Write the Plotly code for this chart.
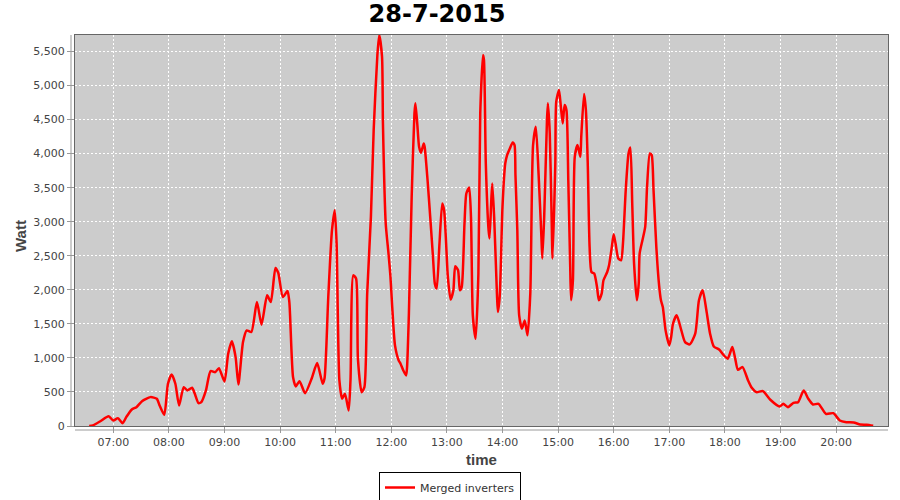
import plotly.graph_objects as go

# ---- data ----
day = "2015-07-28"
times = [
    "06:34", "06:38", "06:46", "06:55", "07:00", "07:05", "07:10", "07:14", "07:20", "07:25",
    "07:31", "07:40", "07:47", "07:50", "07:55", "07:59", "08:03", "08:07", "08:11", "08:16",
    "08:20", "08:25", "08:28", "08:32", "08:35", "08:40", "08:45", "08:50", "08:54", "09:00",
    "09:04", "09:08", "09:12", "09:15", "09:20", "09:24", "09:29", "09:35", "09:40", "09:46",
    "09:50", "09:55", "09:58", "10:03", "10:08", "10:10", "10:14", "10:17", "10:21", "10:27",
    "10:34", "10:40", "10:46", "10:48", "10:52", "10:56", "10:59", "11:01", "11:04", "11:07",
    "11:10", "11:14", "11:16", "11:19", "11:22", "11:24", "11:28", "11:31", "11:34", "11:38",
    "11:41", "11:45", "11:47", "11:50", "11:51", "11:54", "11:57", "11:59", "12:01", "12:04",
    "12:08", "12:10", "12:13", "12:16", "12:17", "12:19", "12:22", "12:25", "12:26", "12:28",
    "12:30", "12:32", "12:35", "12:36", "12:39", "12:42", "12:45", "12:47", "12:49", "12:52",
    "12:55", "12:57", "12:59", "13:01", "13:04", "13:07", "13:09", "13:12", "13:14", "13:16",
    "13:19", "13:21", "13:24", "13:26", "13:28", "13:31", "13:34", "13:36", "13:39", "13:40",
    "13:42", "13:45", "13:46", "13:48", "13:49", "13:51", "13:54", "13:55", "13:57", "14:00",
    "14:03", "14:05", "14:08", "14:11", "14:13", "14:14", "14:16", "14:18", "14:21", "14:24",
    "14:27", "14:30", "14:33", "14:36", "14:39", "14:42", "14:43", "14:45", "14:48", "14:49",
    "14:51", "14:53", "14:54", "14:57", "14:58", "15:01", "15:03", "15:05", "15:07", "15:09",
    "15:11", "15:13", "15:14", "15:16", "15:18", "15:21", "15:24", "15:25", "15:28", "15:30",
    "15:32", "15:34", "15:36", "15:39", "15:42", "15:44", "15:47", "15:49", "15:53", "15:55",
    "15:58", "16:00", "16:02", "16:05", "16:08", "16:10", "16:13", "16:16", "16:18", "16:20",
    "16:22", "16:25", "16:27", "16:28", "16:31", "16:34", "16:36", "16:39", "16:41", "16:43",
    "16:46", "16:49", "16:51", "16:53", "16:56", "17:00", "17:02", "17:04", "17:08", "17:13",
    "17:17", "17:22", "17:28", "17:32", "17:36", "17:40", "17:44", "17:48", "17:54", "17:58",
    "18:03", "18:08", "18:11", "18:14", "18:19", "18:25", "18:29", "18:34", "18:41", "18:49",
    "18:59", "19:03", "19:08", "19:14", "19:19", "19:25", "19:30", "19:35", "19:41", "19:49",
    "19:57", "20:04", "20:11", "20:19", "20:26", "20:33", "20:40",
]
watts = [
    0, 10, 70, 144, 80, 115, 41, 130, 243, 277,
    365, 424, 400, 302, 165, 620, 757, 620, 302, 570,
    522, 562, 473, 335, 350, 522, 806, 791, 850, 654,
    1062, 1243, 1012, 610, 1232, 1404, 1380, 1820, 1488, 1919,
    1820, 2320, 2250, 1894, 1982, 1820, 718, 581, 659, 482,
    694, 924, 620, 700, 1894, 2875, 3169, 2680, 669, 400,
    473, 228, 680, 2213, 2165, 988, 497, 570, 1944, 3071,
    4346, 5449, 5742, 5424, 4444, 2974, 2532, 2213, 1750, 1184,
    963, 915, 816, 743, 860, 1650, 3365, 4591, 4738, 4444,
    4100, 4012, 4150, 4100, 3635, 3071, 2482, 2091, 2018, 2679,
    3268, 3169, 2728, 2200, 1856, 1993, 2346, 2290, 1993, 2040,
    2974, 3415, 3503, 3070, 1625, 1282, 2238, 4591, 5449, 5375,
    3856, 2875, 2753, 3341, 3562, 3070, 1944, 1674, 1900, 3218,
    3856, 3978, 4077, 4165, 4125, 3684, 2875, 1625, 1429, 1551,
    1331, 1944, 4125, 4394, 3684, 2777, 2459, 3070, 4493, 4738,
    4300, 3070, 2459, 3856, 4762, 4934, 4688, 4444, 4713, 4640,
    3610, 2385, 1846, 2140, 3953, 4125, 3953, 4247, 4875, 4640,
    3856, 2630, 2262, 2238, 2041, 1846, 1944, 2140, 2262, 2360,
    2630, 2816, 2679, 2459, 2434, 2679, 3463, 4003, 4091, 3268,
    2385, 1846, 2091, 2532, 2728, 2924, 3512, 4003, 3978, 3463,
    2630, 2066, 1846, 1747, 1404, 1184, 1306, 1503, 1625, 1404,
    1232, 1198, 1356, 1846, 1993, 1699, 1356, 1169, 1120, 1051,
    988, 1159, 1000, 826, 865, 669, 560, 497, 512, 385,
    287, 326, 277, 341, 350, 522, 400, 316, 326, 179,
    188, 81, 56, 51, 22, 18, 3,
]
series_name = "Merged inverters"
chart_title = "28-7-2015"
x_title = "time"
y_title = "Watt"
x_range = [f"{day} 06:18:42", f"{day} 20:56:00"]
y_range = [0, 5742]

x_vals = [f"{day} {t}" for t in times]

fig = go.Figure()
fig.add_trace(go.Scatter(
    x=x_vals, y=watts, mode="lines", name=series_name,
    line=dict(color="#ff0000", width=2.5, shape="spline", smoothing=0.6),
))

fig.update_layout(
    width=900, height=500,
    margin=dict(l=75, r=12, t=35, b=74, autoexpand=False),
    paper_bgcolor="#ffffff",
    plot_bgcolor="#cccccc",
    font=dict(family="DejaVu Sans", color="#444444"),
    title=dict(text=chart_title, x=437 / 900, xref="container", xanchor="center",
               y=1 - 14 / 500, yanchor="middle",
               font=dict(family="DejaVu Sans", size=24, color="#000000", weight="bold")),
    showlegend=True,
    legend=dict(orientation="h", x=(450 - 75) / 813, xanchor="center",
                y=(426 - 487.5) / 391, yanchor="middle",
                bordercolor="#000000", borderwidth=1, bgcolor="#ffffff",
                font=dict(family="DejaVu Sans", size=11, color="#333333"),
                itemwidth=30, tracegroupgap=0),
)

fig.update_xaxes(
    type="date", range=x_range, tickformat="%H:%M", dtick=3600000,
    tick0=f"{day} 00:00", automargin=False,
    showgrid=True, gridcolor="#ffffff", griddash="2px,2px", gridwidth=1,
    showline=True, mirror=True, linecolor="#666666", linewidth=1,
    ticks="outside", ticklen=6, tickcolor="#999999",
    tickfont=dict(family="DejaVu Sans", size=11, color="#444444"),
    zeroline=False,
)
fig.update_yaxes(
    range=y_range, dtick=500, tickformat=",d", automargin=False,
    showgrid=True, gridcolor="#ffffff", griddash="2px,2px", gridwidth=1,
    showline=True, mirror=True, linecolor="#666666", linewidth=1,
    ticks="outside", ticklen=7, tickcolor="#999999",
    tickfont=dict(family="DejaVu Sans", size=11, color="#444444"),
    zeroline=False,
)

# separate axis lines (offset from the plot border)
fig.add_shape(type="line", xref="paper", yref="paper", xsizemode="pixel", xanchor=0,
              x0=-4, x1=-4, y0=0, y1=1, line=dict(color="#999999", width=1))
fig.add_shape(type="line", xref="paper", yref="paper", ysizemode="pixel", yanchor=0,
              y0=-4, y1=-4, x0=0, x1=1, line=dict(color="#999999", width=1))

# axis titles
fig.add_annotation(text=f"<b>{x_title}</b>", xref="paper", yref="paper",
                   x=(481 - 75) / 813, y=(426 - 459) / 391, xanchor="center", yanchor="middle",
                   showarrow=False, font=dict(family="Liberation Sans", size=15, color="#444444"))
fig.add_annotation(text=f"<b>{y_title}</b>", xref="paper", yref="paper",
                   x=(20 - 75) / 813, y=(426 - 236) / 391, xanchor="center", yanchor="middle",
                   textangle=-90, showarrow=False,
                   font=dict(family="Liberation Sans", size=15, color="#444444"))

fig.write_html("out.html", config={"displayModeBar": False},
               post_script="document.body.style.margin='0';document.body.style.overflow='hidden';")
